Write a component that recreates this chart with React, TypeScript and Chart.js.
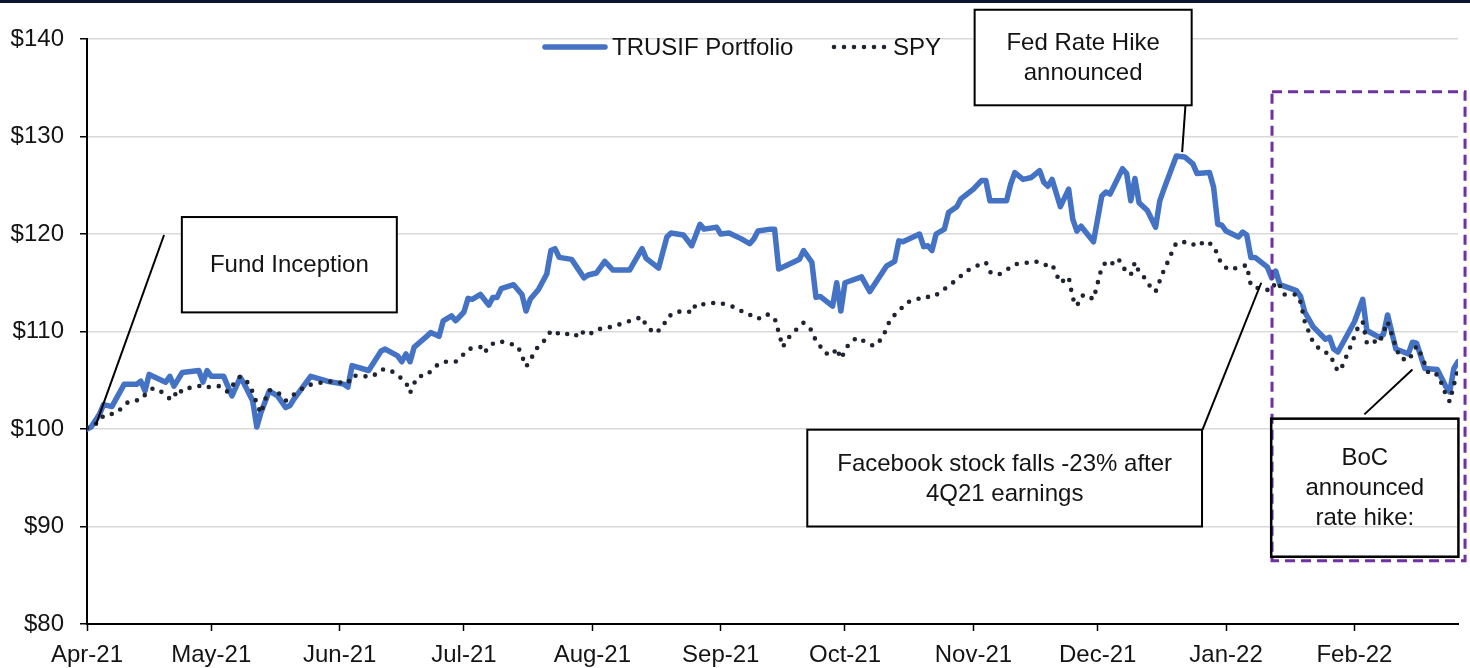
import React, { useEffect, useRef } from 'react';
import { Chart, registerables } from 'chart.js';

Chart.register(...registerables);

// ---------- DATA ----------
// x values are days since 1 Apr 2021
const MONTH_DAYS = [0, 30, 61, 91, 122, 153, 183, 214, 244, 275, 306];
const MONTH_LABELS = ['Apr-21', 'May-21', 'Jun-21', 'Jul-21', 'Aug-21', 'Sep-21', 'Oct-21', 'Nov-21', 'Dec-21', 'Jan-22', 'Feb-22'];
const Y_TICKS = [80, 90, 100, 110, 120, 130, 140];
const X_MAX_DAY = 331;

const SERIES_NAMES = ['TRUSIF Portfolio', 'SPY'];

const PORTFOLIO: [number, number][] = [
  [0, 100.0], [1, 100.2], [3, 101.5], [4, 102.5], [6, 102.3], [9, 104.6], [12, 104.6], [13, 104.9], [14, 103.9], [15, 105.6],
  [19, 104.8], [20, 105.4], [21, 104.4], [23, 105.8], [27, 106.0], [28, 104.8], [29, 106.0], [30, 105.4], [33, 105.4], [35, 103.4],
  [37, 105.3], [38, 104.6], [40, 102.9], [41, 100.2], [42, 101.7], [44, 103.9], [46, 103.4], [48, 102.2], [49, 102.4], [50, 103.1],
  [54, 105.4], [58, 104.9], [62, 104.6], [63, 104.3], [64, 106.5], [68, 106.0], [71, 108.0], [72, 108.2], [75, 107.5], [76, 106.9],
  [77, 107.7], [78, 106.9], [79, 108.4], [82, 109.5], [83, 109.9], [85, 109.5], [86, 111.1], [88, 111.6], [89, 111.1], [91, 112.0],
  [92, 113.4], [93, 113.3], [95, 113.8], [97, 112.7], [98, 113.5], [99, 113.5], [100, 114.4], [103, 114.8], [105, 113.8], [106, 112.1],
  [107, 113.3], [109, 114.3], [111, 115.9], [112, 118.3], [113, 118.5], [114, 117.6], [117, 117.4], [120, 115.5], [121, 115.8], [123, 116.0],
  [125, 117.2], [127, 116.3], [131, 116.3], [134, 118.5], [135, 117.5], [138, 116.5], [140, 119.7], [141, 120.1], [144, 119.9], [146, 118.8],
  [148, 121.0], [149, 120.5], [152, 120.7], [153, 120.0], [155, 120.1], [158, 119.5], [160, 119.0], [161, 119.5], [162, 120.3], [165, 120.5],
  [166, 120.5], [167, 116.4], [169, 116.8], [172, 117.4], [173, 118.3], [175, 117.1], [176, 113.5], [177, 113.6], [180, 112.6], [181, 115.0],
  [182, 112.1], [183, 115.0], [187, 115.6], [189, 114.1], [193, 116.7], [195, 117.2], [196, 119.3], [197, 119.2], [201, 120.0], [202, 118.7],
  [203, 118.8], [204, 118.3], [205, 120.0], [207, 120.5], [208, 122.2], [210, 122.8], [211, 123.6], [214, 124.6], [216, 125.5], [217, 125.5],
  [218, 123.4], [222, 123.4], [223, 125.1], [224, 126.3], [226, 125.6], [228, 125.8], [230, 126.5], [231, 125.3], [232, 124.9], [233, 125.6],
  [235, 122.8], [237, 124.6], [238, 121.5], [239, 120.3], [240, 120.8], [243, 119.2], [245, 123.9], [246, 124.3], [247, 124.1], [250, 126.7],
  [251, 126.2], [252, 123.4], [253, 125.7], [254, 123.2], [256, 122.4], [258, 120.7], [259, 123.4], [260, 124.6], [263, 128.0], [265, 127.9],
  [267, 127.2], [268, 126.2], [271, 126.3], [272, 124.8], [273, 121.0], [274, 120.9], [275, 120.3], [278, 119.7], [279, 120.2], [280, 119.9],
  [281, 117.6], [282, 117.6], [285, 116.6], [286, 115.5], [287, 116.2], [288, 114.8], [292, 114.2], [293, 113.6], [294, 112.0], [296, 110.5],
  [299, 109.2], [300, 109.4], [301, 108.2], [302, 107.9], [306, 111.0], [308, 113.3], [309, 110.1], [312, 109.4], [313, 109.7], [314, 111.7],
  [316, 108.2], [319, 107.7], [320, 108.9], [321, 108.8], [323, 106.2], [326, 106.1], [328, 104.4], [329, 103.8], [330, 106.2], [331, 106.9],
];

const SPY: [number, number][] = [
  [0, 100.1], [3, 100.7], [4, 101.4], [7, 101.6], [9, 102.4], [10, 102.8], [13, 103.0], [14, 103.5], [16, 104.2], [18, 103.8],
  [20, 103.1], [21, 103.7], [22, 103.3], [23, 104.1], [26, 104.3], [28, 104.5], [29, 104.3], [32, 104.4], [34, 103.8], [35, 104.4],
  [37, 105.4], [39, 104.7], [40, 103.8], [41, 102.6], [42, 101.6], [43, 103.0], [44, 104.0], [46, 103.8], [48, 102.9], [49, 103.3],
  [51, 103.8], [53, 104.5], [55, 104.6], [58, 104.9], [60, 104.8], [63, 104.7], [64, 105.5], [66, 105.4], [69, 105.4], [71, 106.1],
  [73, 106.1], [75, 105.5], [77, 104.8], [78, 103.7], [79, 104.7], [80, 105.4], [82, 105.5], [84, 106.4], [86, 106.9], [89, 106.9],
  [91, 107.7], [92, 108.2], [95, 108.4], [96, 107.8], [97, 108.5], [99, 109.0], [101, 108.9], [104, 108.5], [105, 107.5], [106, 106.4],
  [107, 107.0], [108, 107.9], [109, 108.5], [111, 109.3], [112, 110.1], [115, 109.6], [117, 109.9], [119, 109.4], [120, 110.1], [122, 109.8],
  [124, 110.3], [127, 110.5], [129, 110.8], [132, 111.2], [134, 111.5], [135, 110.6], [137, 109.8], [139, 110.4], [140, 111.4], [142, 112.0],
  [145, 112.1], [146, 111.9], [147, 112.8], [150, 112.8], [152, 113.0], [154, 112.8], [157, 112.4], [159, 111.8], [161, 111.6], [162, 111.3],
  [164, 111.8], [166, 111.4], [168, 108.4], [169, 109.2], [171, 110.1], [173, 110.9], [175, 110.1], [176, 109.0], [177, 108.5], [178, 107.8],
  [180, 107.6], [181, 108.3], [182, 107.2], [183, 108.0], [184, 108.8], [186, 109.4], [188, 108.9], [190, 108.5], [192, 109.3], [193, 110.3],
  [194, 111.3], [196, 112.1], [198, 113.0], [200, 113.2], [202, 113.6], [204, 113.5], [206, 114.0], [208, 114.7], [210, 115.3], [212, 116.1],
  [214, 116.6], [217, 117.1], [218, 116.1], [220, 115.8], [222, 116.3], [224, 116.9], [226, 117.0], [229, 117.2], [231, 116.8], [233, 116.9],
  [234, 115.9], [235, 115.0], [237, 115.6], [238, 113.4], [239, 112.6], [240, 113.6], [241, 113.8], [243, 113.3], [245, 116.6], [246, 117.1],
  [247, 116.8], [249, 117.5], [250, 116.6], [252, 115.8], [253, 117.1], [254, 116.1], [256, 115.2], [257, 114.3], [258, 114.1], [259, 115.2],
  [260, 116.3], [261, 117.2], [262, 118.2], [263, 119.1], [266, 119.2], [268, 118.7], [270, 119.3], [272, 118.8], [274, 116.8], [276, 116.3],
  [278, 116.6], [280, 116.8], [281, 114.7], [283, 114.4], [286, 114.2], [287, 115.1], [288, 114.7], [289, 113.8], [292, 113.8], [293, 113.0],
  [294, 111.0], [296, 108.9], [298, 108.0], [300, 107.7], [302, 105.9], [303, 106.4], [305, 108.4], [307, 110.6], [308, 111.0], [309, 108.8],
  [310, 109.1], [312, 108.8], [313, 109.9], [314, 111.0], [316, 108.4], [317, 107.3], [319, 107.0], [320, 107.7], [321, 108.5], [322, 107.7],
  [324, 105.6], [326, 105.6], [327, 104.7], [328, 103.6], [329, 102.8], [330, 104.5], [331, 106.1],
];

// ---------- ANNOTATIONS (data coordinates: day, value) ----------
const ANNOTATION_BOXES = [
  { lines: ['Fund Inception'], x0: 22.9, x1: 74.8, y0: 121.74, y1: 111.96, fill: true, width: 2 },
  { lines: ['Fed Rate Hike', 'announced'], x0: 214.3, x1: 266.7, y0: 143.0, y1: 133.2, fill: true, width: 2 },
  { lines: ['Facebook stock falls -23% after', '4Q21 earnings'], x0: 173.9, x1: 269.2, y0: 99.93, y1: 90.0, fill: true, width: 2 },
  { lines: ['BoC', 'announced', 'rate hike:'], x0: 285.9, x1: 331.1, y0: 101.06, y1: 86.9, fill: false, width: 2.5 },
];
const LEADER_LINES = [
  { x0: 18.6, y0: 119.9, x1: 2.2, y1: 100.5 },
  { x0: 265.2, y0: 133.2, x1: 264.4, y1: 128.4 },
  { x0: 269.3, y0: 99.9, x1: 283.5, y1: 115.0 },
  { x0: 308.4, y0: 101.5, x1: 320.0, y1: 106.1 },
];
const HIGHLIGHT_RECT = { x0: 286.1, x1: 332.7, y0: 134.6, y1: 86.5 };

// ---------- STYLE ----------
const FONT_FAMILY = '"Liberation Sans", Arial, sans-serif';
const FONT_SIZE = 24;
const TEXT_COLOR = '#141414';
const BLUE = '#4472C4';
const DOT_COLOR = '#1f2430';
const PURPLE = '#7030A0';
const NAVY = '#0a1532';
const BLUE_WIDTH = 5.5;
const DOT_WIDTH = 4.6;
const DOT_DASH = [0, 10];

const overlayPlugin = {
  id: 'overlay',
  beforeDraw(chart: any) {
    const { ctx, width, height } = chart;
    ctx.save();
    ctx.fillStyle = '#ffffff';
    ctx.fillRect(0, 0, width, height);
    ctx.fillStyle = NAVY;
    ctx.fillRect(0, 0, width, 3);
    ctx.restore();
  },
  afterDatasetsDraw(chart: any) {
    const { ctx } = chart;
    const xs = chart.scales.x;
    const ys = chart.scales.y;
    const px = (v: number) => xs.getPixelForValue(v);
    const py = (v: number) => ys.getPixelForValue(v);
    ctx.save();

    // purple highlight
    ctx.strokeStyle = PURPLE;
    ctx.lineWidth = 3;
    ctx.setLineDash([10, 6]);
    ctx.lineCap = 'butt';
    const hx0 = px(HIGHLIGHT_RECT.x0), hx1 = px(HIGHLIGHT_RECT.x1);
    const hy0 = py(HIGHLIGHT_RECT.y0), hy1 = py(HIGHLIGHT_RECT.y1);
    ctx.strokeRect(hx0, hy0, hx1 - hx0, hy1 - hy0);
    ctx.setLineDash([]);

    // leader lines
    ctx.strokeStyle = '#000';
    ctx.lineWidth = 2;
    LEADER_LINES.forEach((l) => {
      ctx.beginPath();
      ctx.moveTo(px(l.x0), py(l.y0));
      ctx.lineTo(px(l.x1), py(l.y1));
      ctx.stroke();
    });

    // boxes
    ctx.font = `${FONT_SIZE}px ${FONT_FAMILY}`;
    ctx.textAlign = 'center';
    ctx.textBaseline = 'middle';
    ANNOTATION_BOXES.forEach((b) => {
      const x0 = px(b.x0), x1 = px(b.x1), y0 = py(b.y0), y1 = py(b.y1);
      if (b.fill) {
        ctx.fillStyle = '#ffffff';
        ctx.fillRect(x0, y0, x1 - x0, y1 - y0);
      }
      ctx.strokeStyle = '#000';
      ctx.lineWidth = b.width;
      ctx.strokeRect(x0, y0, x1 - x0, y1 - y0);
      ctx.fillStyle = TEXT_COLOR;
      const lh = 30;
      const cx = (x0 + x1) / 2;
      const cy = (y0 + y1) / 2;
      const startY = cy - ((b.lines.length - 1) * lh) / 2;
      b.lines.forEach((t, i) => ctx.fillText(t, cx, startY + i * lh + 1));
    });

    // legend
    const ly = chart.chartArea.top + 8;
    ctx.textAlign = 'left';
    ctx.lineCap = 'round';
    ctx.strokeStyle = BLUE;
    ctx.lineWidth = BLUE_WIDTH;
    ctx.beginPath();
    ctx.moveTo(545, ly);
    ctx.lineTo(605, ly);
    ctx.stroke();
    ctx.fillStyle = TEXT_COLOR;
    ctx.fillText(SERIES_NAMES[0], 612, ly + 1);

    ctx.strokeStyle = DOT_COLOR;
    ctx.lineWidth = DOT_WIDTH;
    ctx.setLineDash(DOT_DASH);
    ctx.beginPath();
    ctx.moveTo(834, ly);
    ctx.lineTo(886, ly);
    ctx.stroke();
    ctx.setLineDash([]);
    ctx.fillText(SERIES_NAMES[1], 893, ly + 1);

    ctx.restore();
  },
};

export default function App() {
  const canvasRef = useRef<HTMLCanvasElement | null>(null);

  useEffect(() => {
    if (!canvasRef.current) return;
    Chart.defaults.font.family = FONT_FAMILY;
    const chart = new Chart(canvasRef.current, {
      type: 'line',
      data: {
        datasets: [
          {
            label: SERIES_NAMES[0],
            data: PORTFOLIO.map(([x, y]) => ({ x, y })),
            borderColor: BLUE,
            borderWidth: BLUE_WIDTH,
            pointRadius: 0,
            tension: 0,
            borderJoinStyle: 'round',
            borderCapStyle: 'round',
            order: 1,
          },
          {
            label: SERIES_NAMES[1],
            data: SPY.map(([x, y]) => ({ x, y })),
            borderColor: DOT_COLOR,
            borderWidth: DOT_WIDTH,
            borderDash: DOT_DASH,
            borderCapStyle: 'round',
            borderJoinStyle: 'round',
            pointRadius: 0,
            tension: 0,
            order: 0,
          },
        ],
      },
      options: {
        responsive: true,
        maintainAspectRatio: false,
        animation: false,
        events: [],
        layout: { padding: { top: 39, right: 12, left: 0, bottom: 0 } },
        plugins: { legend: { display: false }, tooltip: { enabled: false } },
        scales: {
          x: {
            type: 'linear',
            min: 0,
            max: X_MAX_DAY,
            afterBuildTicks: (axis: any) => {
              axis.ticks = MONTH_DAYS.map((v) => ({ value: v }));
            },
            afterFit: (axis: any) => {
              axis.height = 44;
            },
            ticks: {
              autoSkip: false,
              maxRotation: 0,
              minRotation: 0,
              padding: 10,
              color: TEXT_COLOR,
              font: { size: FONT_SIZE, family: FONT_FAMILY },
              callback: (_v: any, i: number) => MONTH_LABELS[i],
            },
            grid: { drawOnChartArea: false, drawTicks: true, tickLength: 7, tickColor: '#000', tickWidth: 1.5, color: '#000' },
            border: { display: true, color: '#000', width: 2 },
          },
          y: {
            min: 80,
            max: 140,
            afterBuildTicks: (axis: any) => {
              axis.ticks = Y_TICKS.map((v) => ({ value: v }));
            },
            afterFit: (axis: any) => {
              axis.width = 87;
            },
            ticks: {
              padding: 16,
              color: TEXT_COLOR,
              font: { size: FONT_SIZE, family: FONT_FAMILY },
              callback: (v: any) => '$' + v,
            },
            grid: { color: '#d9d9d9', lineWidth: 1.5, drawTicks: true, tickLength: 7, tickColor: '#000', tickWidth: 1.5 },
            border: { display: true, color: '#000', width: 2 },
          },
        },
      } as any,
      plugins: [overlayPlugin],
    });
    return () => chart.destroy();
  }, []);

  return (
    <div style={{ position: 'absolute', left: 0, top: 0, width: 1470, height: 668, background: '#fff' }}>
      <canvas ref={canvasRef} />
    </div>
  );
}
